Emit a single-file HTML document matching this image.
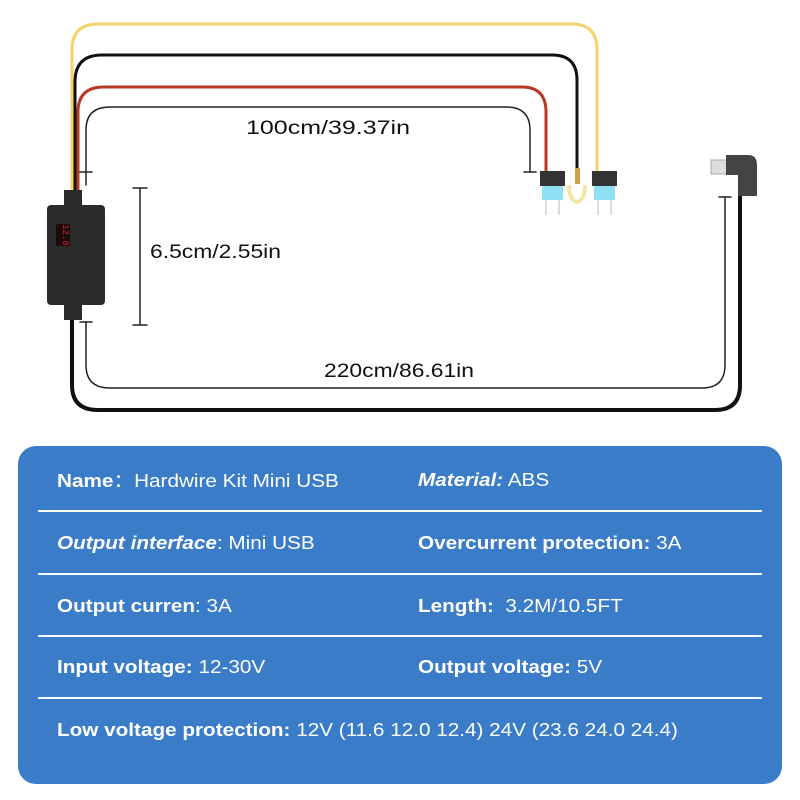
<!DOCTYPE html>
<html><head><meta charset="utf-8"><style>
body{margin:0;background:#fff;width:800px;height:800px;overflow:hidden;font-family:"Liberation Sans",sans-serif;position:relative}
.panel{position:absolute;left:18px;top:446px;width:764px;height:338px;background:#3a7cc8;border-radius:18px}
.t{position:absolute;color:#fff;font-size:18px;line-height:20px;white-space:nowrap;transform:scaleX(1.15);transform-origin:0 50%}
.sep{position:absolute;left:38px;width:724px;height:2px;background:#fff}
</style></head><body>
<svg width="800" height="440" style="position:absolute;left:0;top:0">
<g fill="none" stroke-linecap="round">
<path d="M72 200 V50 Q72 24 98 24 H572 Q597 24 597 50 V172" stroke="#f3d36a" stroke-width="3"/>
<path d="M75 200 V82 Q75 55 102 55 H552 Q577 55 577 80 V170" stroke="#111" stroke-width="3"/>
<path d="M78 200 V112 Q78 87 104 87 H522 Q546 87 546 112 V172" stroke="#b83a26" stroke-width="3"/>
<path d="M86 185 V130 Q86 107 110 107 H506 Q530 107 530 130 V172" stroke="#222" stroke-width="1.5"/>
<path d="M80 172 H92 M524 172 H536" stroke="#222" stroke-width="1.5"/>
<path d="M72 305 V385 Q72 410 98 410 H715 Q740 410 740 385 V195" stroke="#111" stroke-width="4"/>
<path d="M86 322 V365 Q86 388 110 388 H702 Q725 388 725 365 V197" stroke="#222" stroke-width="1.5"/>
<path d="M80 322 H92 M719 197 H731" stroke="#222" stroke-width="1.5"/>
<path d="M140 188 V325 M133 188 H147 M133 325 H147" stroke="#222" stroke-width="1.5"/>
</g>
<rect x="64" y="190" width="18" height="18" fill="#2a2a2a"/>
<rect x="64" y="302" width="18" height="18" fill="#2a2a2a"/>
<rect x="47" y="205" width="58" height="100" rx="4" fill="#2b2b2b"/>
<rect x="56" y="224" width="14" height="22" fill="#1a0c0c"/>
<text x="63" y="235" fill="#d22" font-size="9" text-anchor="middle" transform="rotate(90 63 235)" font-family="Liberation Mono">12.8</text>
<rect x="540" y="171" width="25" height="15" fill="#333"/>
<rect x="542" y="186" width="21" height="14" fill="#8fe0f2"/>
<path d="M546 200 V215 M559 200 V215" stroke="#ddd" stroke-width="2"/>
<rect x="592" y="171" width="25" height="15" fill="#333"/>
<rect x="594" y="186" width="21" height="14" fill="#8fe0f2"/>
<path d="M598 200 V215 M611 200 V215" stroke="#ddd" stroke-width="2"/>
<path d="M569 185 Q569 200 577 202 Q585 200 585 185" fill="none" stroke="#f3e7a8" stroke-width="4"/>
<rect x="575" y="168" width="5" height="16" fill="#c9a24a"/>
<rect x="711" y="160" width="18" height="14" fill="#ddd" stroke="#aaa"/>
<path d="M726 155 H748 Q757 155 757 165 V196 H738 V175 H726 Z" fill="#444"/>
<text x="246" y="134" font-size="19" fill="#111" textLength="164" lengthAdjust="spacingAndGlyphs">100cm/39.37in</text>
<text x="150" y="258" font-size="19" fill="#111" textLength="131" lengthAdjust="spacingAndGlyphs">6.5cm/2.55in</text>
<text x="324" y="377" font-size="19" fill="#111" textLength="150" lengthAdjust="spacingAndGlyphs">220cm/86.61in</text>
</svg>
<div class="panel"></div>
<div class="sep" style="top:510px"></div>
<div class="sep" style="top:573px"></div>
<div class="sep" style="top:635px"></div>
<div class="sep" style="top:697px"></div>
<div class="t" style="left:57px;top:470px"><b>Name</b><span style="font-family:'Noto Sans CJK SC',sans-serif;line-height:20px">：</span>Hardwire Kit Mini USB</div>
<div class="t" style="left:418px;top:470px"><b><i>Material:</i></b> ABS</div>
<div class="t" style="left:57px;top:533px"><b><i>Output interface</i></b>: Mini USB</div>
<div class="t" style="left:418px;top:533px"><b>Overcurrent protection:</b> 3A</div>
<div class="t" style="left:57px;top:596px"><b>Output curren</b>: 3A</div>
<div class="t" style="left:418px;top:596px"><b>Length:</b>&nbsp; 3.2M/10.5FT</div>
<div class="t" style="left:57px;top:657px"><b>Input voltage:</b> 12-30V</div>
<div class="t" style="left:418px;top:657px"><b>Output voltage:</b> 5V</div>
<div class="t" style="left:57px;top:720px"><b>Low voltage protection:</b> 12V (11.6 12.0 12.4) 24V (23.6 24.0 24.4)</div>
</body></html>
